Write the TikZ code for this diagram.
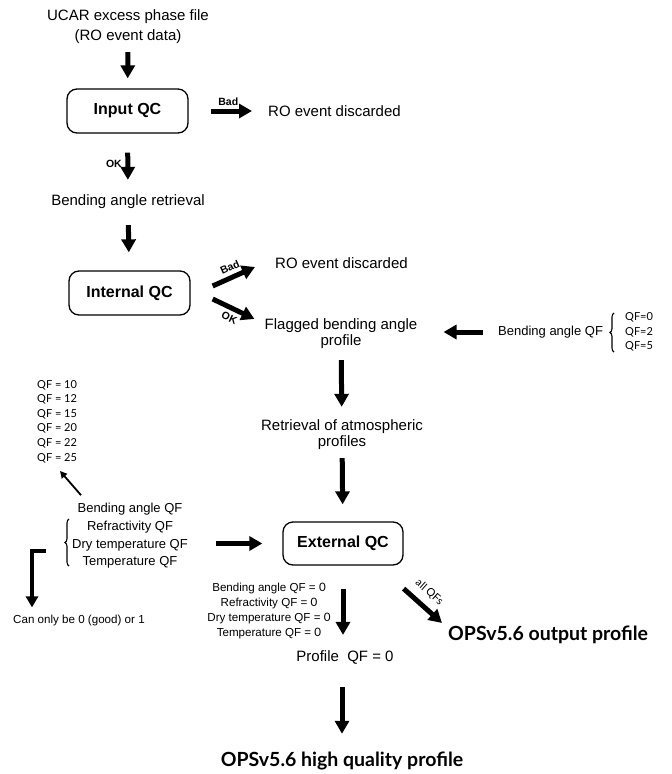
\documentclass[tikz,border=0pt]{standalone}
\usepackage{fontspec}
\setmainfont{Liberation Sans}
\newfontfamily\lato{Lato}
\usetikzlibrary{positioning}
\usetikzlibrary{arrows.meta, decorations.pathreplacing}

\begin{document}
\begin{tikzpicture}[x=1pt,y=-1pt]

 \tikzset{qc box/.style={
 		draw, line width=1.3pt, rounded corners=10pt,
 		minimum width=121pt, minimum height=44pt,
 		font=\fontsize{16}{19}\selectfont\bfseries
 	},
 	txt/.style={inner sep=0pt, align=center, font=\fontsize{15}{#1}\selectfont},
 	txt/.default=17,
 	small txt/.style={inner sep=0pt, align=center, font=\fontsize{13}{17.7}\selectfont},
 	tiny txt/.style={inner sep=0pt, align=center, font=\fontsize{11.6}{15}\selectfont},
 	qf list/.style={inner sep=0pt, align=left, font=\lato\fontsize{11}{#1}\selectfont},
 	qf list/.default=14.6,
 	ops/.style={inner sep=0pt, font=\lato\bfseries\fontsize{19.5}{22}\selectfont},
 	tag/.style={inner sep=1.5pt, font=\bfseries\fontsize{10.5}{12}\selectfont},
 	fat arrow/.style={line width=5pt, -{Triangle[width=14pt,length=13pt]}},
 	curly/.style={decorate, decoration={brace, amplitude=4pt}, line width=1.1pt}
 }
 \useasboundingbox (0,0) rectangle (672,774);

 % upper column
 \node[txt=20] (ucar) at (128,27) {UCAR excess phase file\\(RO event data)};
 \node[qc box] (inqc) at (127.5,111) {Input QC};
 \node[txt, anchor=west] (disc1) at (268,111) {RO event discarded};
 \node[txt] (bar) at (128,202) {Bending angle retrieval};
 \node[qc box] (intqc) at (129.5,293) {Internal QC};
 \node[txt, anchor=west] (disc2) at (275,263) {RO event discarded};

 % right column
 \node[txt=16] (flag) at (341,334) {Flagged bending angle\\profile};
 \node[small txt, anchor=west] (baqf) at (498,332) {Bending angle QF};
 \node[qf list, anchor=west] (qfr) at (625,332) {QF=0\\QF=2\\QF=5};
 \node[txt=16] (retr) at (342,435) {Retrieval of atmospheric\\profiles};
 \node[qc box, minimum width=120pt, minimum height=43pt] (exqc) at (343,543.5) {External QC};
 \node[txt] (prof) at (345,657) {Profile~~QF = 0};
 \node[ops, anchor=west] (out) at (448,635) {OPSv5.6 output profile};
 \node[ops] (hq) at (342,761) {OPSv5.6 high quality profile};

 % left side
 \node[small txt] (leftqf) at (130,536) {Bending angle QF\\Refractivity QF\\Dry temperature QF\\Temperature QF};
 \node[qf list, anchor=west] (qfl) at (37,421.5) {QF = 10\\QF = 12\\QF = 15\\QF = 20\\QF = 22\\QF = 25};
 \node[tiny txt, anchor=west] (canonly) at (13,620) {Can only be 0 (good) or 1};
 \node[tiny txt] (zeroqf) at (269,610.5) {Bending angle QF = {\lato 0}\\Refractivity QF = {\lato 0}\\Dry temperature QF = {\lato 0}\\Temperature QF = {\lato 0}};
 \coordinate (bend) at (46,551);

 \draw[fat arrow, shorten <=8pt, shorten >=10pt] (ucar) -- (inqc);
 \draw[fat arrow, shorten <=22pt, shorten >=16pt] (inqc.east) -- (disc1.west) node[tag, midway, above, yshift=1pt] {Bad};
 \draw[fat arrow, shorten <=19pt, shorten >=15pt] (inqc) -- (bar) node[tag, midway, left, xshift=-2pt] {OK};
 \draw[fat arrow, shorten <=16pt, shorten >=18pt] (bar) -- (intqc);
 \draw[fat arrow] ([xshift=22pt,yshift=7pt]intqc.east) -- ([xshift=-20pt,yshift=-4pt]disc2.west) node[tag, midway, above=2pt, sloped] {Bad};
 \draw[fat arrow] ([xshift=22pt,yshift=-6pt]intqc.east) -- ([xshift=-10pt,yshift=15pt]flag.west) node[tag, midway, below=2pt, sloped] {OK};
 \draw[fat arrow, shorten <=15pt, shorten >=26pt] (baqf.west) -- (baqf.west -| flag.east);
 \draw[curly] (614,352) -- (614,313);
 \draw[fat arrow, shorten <=11pt, shorten >=13pt] (flag) -- (retr);
 \draw[fat arrow, shorten <=8pt, shorten >=17pt] (retr) -- (exqc);
 \draw[fat arrow, shorten <=28pt, shorten >=20pt] (leftqf.east |- exqc.west) -- (exqc.west);
 \draw[curly] (69,566) -- (69,519);
 \draw[line width=1.8pt, -{Triangle[width=7pt,length=7pt]}] ([xshift=9pt,yshift=8pt]leftqf.north west) -- ([xshift=23pt,yshift=-8pt]qfl.south west);
 \draw[line width=3.5pt, line join=miter, -{Triangle[width=12pt,length=11pt]}] (bend) -| ([xshift=19pt,yshift=7pt]canonly.north west);
 \draw[fat arrow, shorten <=23pt, shorten >=15pt] (exqc.south) -- (exqc.south |- prof.north);
 \draw[fat arrow] ([yshift=-23pt]exqc.south east) -- ([xshift=-6pt,yshift=12pt]out.west) node[pos=0.42, above=7pt, sloped, inner sep=0pt, font=\lato\fontsize{11}{12}\selectfont] {all QFs};
 \draw[fat arrow, shorten <=23pt, shorten >=18pt] (prof.south -| hq) -- (hq.north);
\end{tikzpicture}
\end{document}
